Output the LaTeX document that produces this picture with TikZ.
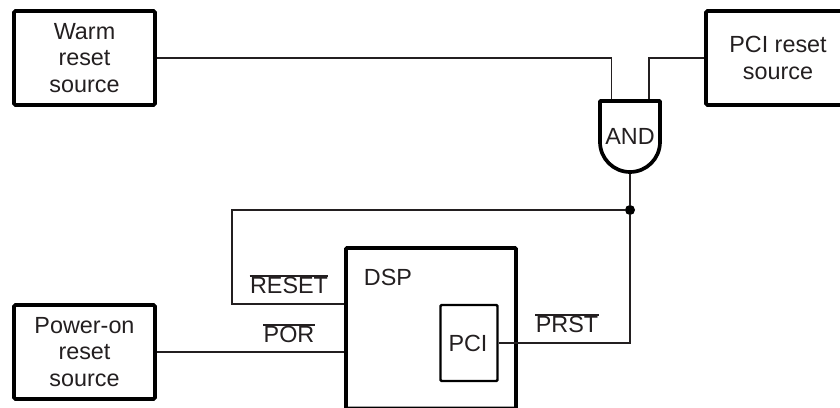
\documentclass[tikz,border=0pt]{standalone}
\usepackage{fontspec}
\setmainfont{Liberation Sans}
\usepackage{tikz}
\definecolor{InkGray}{RGB}{35,31,32}
\tikzset{
  srcbox/.style={draw=black,line width=2.1pt,rounded corners=0.8pt,minimum width=2.82cm,
    minimum height=1.88cm,align=center,inner sep=0pt,text=InkGray},
  chipbox/.style={draw=black,rounded corners=0.6pt,inner sep=0pt,text=InkGray},
  wire/.style={draw=InkGray,line width=0.7pt},
  siglabel/.style={anchor=base,inner sep=0pt,text=InkGray},
  barlabel/.style={siglabel,inner ysep=0.8pt},
  jdot/.style={circle,fill=black,inner sep=0pt,minimum size=0.2cm},
}
\begin{document}
\begin{tikzpicture}[x=0.02cm,y=-0.02cm,font=\fontsize{13.3}{15.1}\selectfont]
\useasboundingbox (0,0) rectangle (840,408);
\clip (0,0) rectangle (840,408);
\node[srcbox] (warm) at (84.5,58) {Warm\\reset\\source};
\node[srcbox] (pwron) at (84.5,352) {Power-on\\reset\\source};
\node[srcbox,minimum width=2.88cm] (pcisrc) at (778,58) {PCI reset\\source};
\node[chipbox,line width=2.1pt,minimum width=3.4cm,minimum height=3.21cm] (dsp) at (431,328.2) {};
\node[chipbox,line width=1.4pt,minimum width=1.14cm,minimum height=1.52cm] (pci) at (469,343) {};
\node[siglabel] (dsplabel) at (388,286) {DSP};
\node[siglabel] (pcilabel) at (468,352) {PCI};
% gate body
\coordinate (gateL) at (600,101);
\coordinate (gateR) at (660,101);
\coordinate (gatein1) at (611.5,101);
\coordinate (gatein2) at (649,101);
\coordinate (gateout) at (630,172);
\node[jdot] (junction) at (630,210) {};
\coordinate (rstcorner) at (232,304);
\coordinate (prstcorner) at (630,343);
\draw[wire] (warm.east) -| (gatein1);
\draw[wire] (pcisrc.west) -| (gatein2);
\draw[wire] (gateout)--(junction)--(prstcorner)--(pci.east);
\draw[wire] (junction) -| (rstcorner)--(rstcorner -| dsp.west);
\draw[wire] (pwron.east)--(pwron.east -| dsp.west);
\draw[draw=black,line width=2.1pt,fill=white,line join=round]
  (gateL)--(gateR)--(660,142) arc (0:180:30 and 30)--cycle;
\node[siglabel] (gate) at (630,145) {AND};
\node[barlabel] (rstlabel) at (289,294) {RESET};
\node[barlabel] (porlabel) at (289,343) {POR};
\node[barlabel] (prstlabel) at (567,333) {PRST};
\foreach \n in {rstlabel,porlabel,prstlabel}
  \draw[InkGray,line width=0.8pt] (\n.north west)--(\n.north east);
\end{tikzpicture}
\end{document}
